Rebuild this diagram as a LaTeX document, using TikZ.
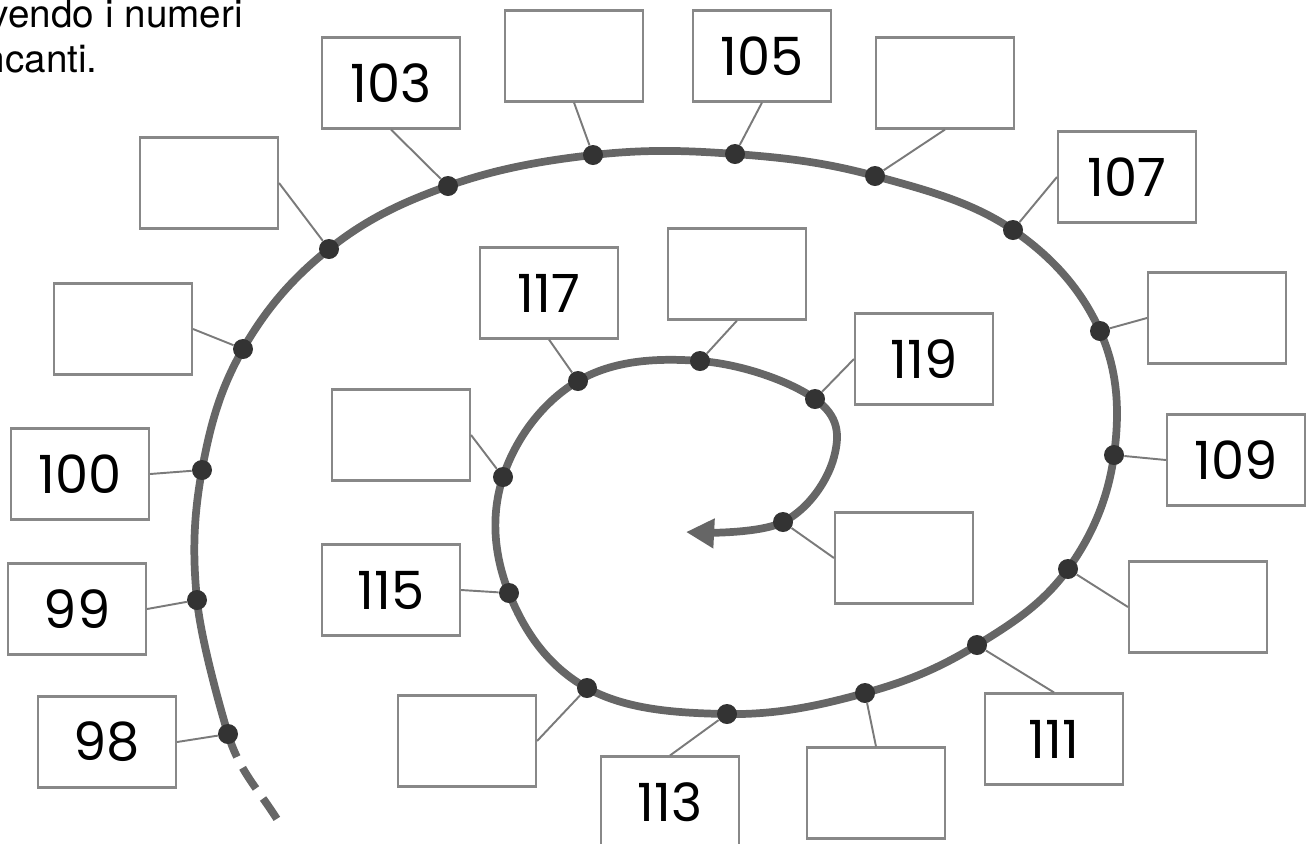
\documentclass[tikz,border=0pt]{standalone}
\usepackage{fontspec}
\setmainfont{TeX Gyre Heros}
\newfontfamily\numfont{Poppins}
\usetikzlibrary{arrows.meta}
\definecolor{spiralgray}{HTML}{666666}
\definecolor{dotgray}{HTML}{333333}
\definecolor{boxgray}{HTML}{888888}

\begin{document}
\begin{tikzpicture}[x=0.02cm,y=-0.02cm,
	numbox/.style={draw=boxgray,line width=1.2pt,fill=white,minimum width=2.76cm,
		minimum height=1.82cm,inner sep=0pt,font=\numfont\fontsize{30}{30}\selectfont},
	spot/.style={circle,fill=dotgray,minimum size=0.4cm,inner sep=0pt},
	stick/.style={draw=boxgray!90!black,line width=1.1pt},
	spiral/.style={draw=spiralgray,line width=4.4pt}]
	\useasboundingbox (0,0) rectangle (1314,843);
	
	%instruction, cut at the left border
	\node[anchor=base east,inner sep=0pt,font=\fontsize{22}{25}\selectfont] (txta) at (243,27) {vendo i numeri};
	\node[anchor=base east,inner sep=0pt,font=\fontsize{22}{25}\selectfont] (txtb) at (98,72) {ncanti.};
	
	%points of the spiral, one for every number
	\coordinate (p98) at (228,734);
	\coordinate (p99) at (197,600);
	\coordinate (p100) at (202,470);
	\coordinate (p101) at (243,349);
	\coordinate (p102) at (329,249);
	\coordinate (p103) at (448,186);
	\coordinate (p104) at (593,155);
	\coordinate (p105) at (735,154);
	\coordinate (p106) at (875,176);
	\coordinate (p107) at (1013,230);
	\coordinate (p108) at (1100,331);
	\coordinate (p109) at (1114,455);
	\coordinate (p110) at (1068,569);
	\coordinate (p111) at (977,645);
	\coordinate (p112) at (865,693);
	\coordinate (p113) at (727,714);
	\coordinate (p114) at (587,688);
	\coordinate (p115) at (509,593);
	\coordinate (p116) at (503,477);
	\coordinate (p117) at (578,381);
	\coordinate (p118) at (700,361);
	\coordinate (p119) at (815,399);
	\coordinate (p120) at (783,522);
	\coordinate (bend) at (834,457); %no dot here
	\coordinate (tip) at (686,532);
	\coordinate (tail) at (283,829);
	
	%the spiral: dashed tail, then the arrow
	\draw[spiral,dash pattern=on 14pt off 7pt] (p98) to[out=-73,in=120] (tail);
	\draw[spiral,-{Triangle[length=16pt,width=16pt]}] plot[smooth,tension=0.65] coordinates {
		(p98) (p99) (p100) (p101) (p102) (p103) (p104) (p105) (p106) (p107) (p108) (p109)
		(p110) (p111) (p112) (p113) (p114) (p115) (p116) (p117) (p118) (p119) (bend) (p120) (tip)};
	
	%boxes
	\node[numbox] (b98) at (107,742) {98};
	\node[numbox] (b99) at (77,609) {99};
	\node[numbox] (b100) at (80,474) {100};
	\node[numbox] (b101) at (123,329) {};
	\node[numbox] (b102) at (209,183) {};
	\node[numbox] (b103) at (391,83) {103};
	\node[numbox] (b104) at (574,56) {};
	\node[numbox] (b105) at (762,56) {105};
	\node[numbox] (b106) at (945,83) {};
	\node[numbox] (b107) at (1127,177) {107};
	\node[numbox] (b108) at (1217,318) {};
	\node[numbox] (b109) at (1236,460) {109};
	\node[numbox] (b110) at (1198,607) {};
	\node[numbox] (b111) at (1054,739) {111};
	\node[numbox] (b112) at (876,793) {};
	\node[numbox] (b113) at (670,802) {113};
	\node[numbox] (b114) at (467,741) {};
	\node[numbox] (b115) at (391,590) {115};
	\node[numbox] (b116) at (401,435) {};
	\node[numbox] (b117) at (549,293) {117};
	\node[numbox] (b118) at (737,274) {};
	\node[numbox] (b119) at (924,359) {119};
	\node[numbox] (b120) at (904,558) {};
	
	%dots on the spiral
	\foreach \n in {98,...,120}
	\node[spot] (d\n) at (p\n) {};
	
	%lines from the boxes to the dots
	\draw[stick] (b98.east) -- (d98);
	\draw[stick] (b99.east) -- (d99);
	\draw[stick] (b100.east) -- (d100);
	\draw[stick] (b101.east) -- (d101);
	\draw[stick] (b102.east) -- (d102);
	\draw[stick] (b103.south) -- (d103);
	\draw[stick] (b104.south) -- (d104);
	\draw[stick] (b105.south) -- (d105);
	\draw[stick] (b106.south) -- (d106);
	\draw[stick] (b107.west) -- (d107);
	\draw[stick] (b108.west) -- (d108);
	\draw[stick] (b109.west) -- (d109);
	\draw[stick] (b110.west) -- (d110);
	\draw[stick] (b111.north) -- (d111);
	\draw[stick] (b112.north) -- (d112);
	\draw[stick] (b113.north) -- (d113);
	\draw[stick] (b114.east) -- (d114);
	\draw[stick] (b115.east) -- (d115);
	\draw[stick] (b116.east) -- (d116);
	\draw[stick] (b117.south) -- (d117);
	\draw[stick] (b118.south) -- (d118);
	\draw[stick] (b119.west) -- (d119);
	\draw[stick] (b120.west) -- (d120);
	
\end{tikzpicture}
\end{document}
